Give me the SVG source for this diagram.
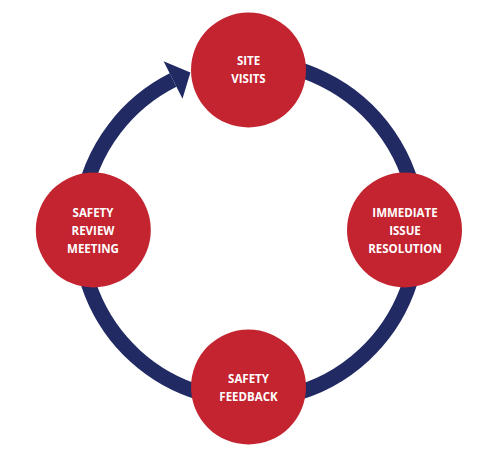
<svg xmlns="http://www.w3.org/2000/svg" width="500" height="456" viewBox="0 0 500 456">
  <style>
    .node { fill: #c3242f; }
    .label { fill: #ffffff; font-family: "Open Sans", "Liberation Sans", sans-serif; font-weight: bold; font-size: 11.5px; text-anchor: middle; }
    .ring { fill: none; stroke: #222a64; stroke-width: 15; }
    .head { fill: #222a64; }
  </style>
  <rect width="500" height="456" fill="#ffffff"/>
  <g id="connectors">
    <path class="ring" d="M 249 62 A 169 169 0 1 1 173.07 80.01"/>
    <polygon class="head" points="190.4,72.5 163.6,61.3 182.5,98.8"/>
  </g>
  <g id="node-site-visits">
    <circle class="node" cx="248.5" cy="70" r="57.5"/>
    <text class="label" x="248.5" y="65">SITE</text>
    <text class="label" x="248.5" y="83">VISITS</text>
  </g>
  <g id="node-immediate-issue-resolution">
    <circle class="node" cx="404.5" cy="230" r="57.5"/>
    <text class="label" x="405" y="217">IMMEDIATE</text>
    <text class="label" x="405" y="235">ISSUE</text>
    <text class="label" x="405" y="253">RESOLUTION</text>
  </g>
  <g id="node-safety-feedback">
    <circle class="node" cx="248.5" cy="387" r="57.5"/>
    <text class="label" x="248.5" y="383">SAFETY</text>
    <text class="label" x="248.5" y="401">FEEDBACK</text>
  </g>
  <g id="node-safety-review-meeting">
    <circle class="node" cx="93.3" cy="230" r="57.5"/>
    <text class="label" x="93" y="217">SAFETY</text>
    <text class="label" x="93" y="235">REVIEW</text>
    <text class="label" x="93" y="253">MEETING</text>
  </g>
</svg>
